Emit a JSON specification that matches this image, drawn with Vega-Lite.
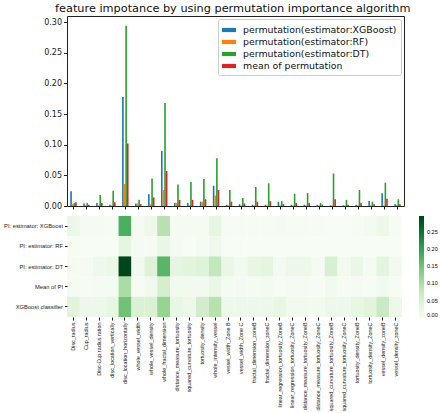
{
  "$schema": "https://vega.github.io/schema/vega-lite/v6.json",
  "padding": {"left": 3, "top": 3, "right": 0, "bottom": 0},
  "background": "white",
  "config": {
    "font": "DejaVu Sans",
    "view": {"stroke": null},
    "axis": {"labelColor": "#222", "tickColor": "#222", "domainColor": "#222", "grid": false}
  },
  "title": {"text": "feature impotance by using permutation importance algorithm", "fontSize": 11.3, "fontWeight": "normal", "color": "#111", "anchor": "middle", "offset": 1, "dx": 12},
  "spacing": 5,
  "resolve": {"scale": {"color": "independent", "x": "independent", "y": "independent"}, "legend": {"color": "independent"}},
  "datasets": {
    "d": [
      {"f": "Disc_radius", "s": "XGB", "v": 0.024}, {"f": "Disc_radius", "s": "RF", "v": 0.003}, {"f": "Disc_radius", "s": "DT", "v": 0.005}, {"f": "Disc_radius", "s": "Mean", "v": 0.006}, {"f": "Disc_radius", "s": "Clf", "v": 0.04},
      {"f": "Cup_radius", "s": "XGB", "v": 0.004}, {"f": "Cup_radius", "s": "RF", "v": 0.001}, {"f": "Cup_radius", "s": "DT", "v": 0.005}, {"f": "Cup_radius", "s": "Mean", "v": 0.002}, {"f": "Cup_radius", "s": "Clf", "v": 0.02},
      {"f": "Disc-Cup radius ration", "s": "XGB", "v": 0.005}, {"f": "Disc-Cup radius ration", "s": "RF", "v": 0.001}, {"f": "Disc-Cup radius ration", "s": "DT", "v": 0.018}, {"f": "Disc-Cup radius ration", "s": "Mean", "v": 0.005}, {"f": "Disc-Cup radius ration", "s": "Clf", "v": 0.02},
      {"f": "disc_location_vertically", "s": "XGB", "v": 0.002}, {"f": "disc_location_vertically", "s": "RF", "v": 0.001}, {"f": "disc_location_vertically", "s": "DT", "v": 0.025}, {"f": "disc_location_vertically", "s": "Mean", "v": 0.006}, {"f": "disc_location_vertically", "s": "Clf", "v": 0.03},
      {"f": "disc_location_horizontally", "s": "XGB", "v": 0.178}, {"f": "disc_location_horizontally", "s": "RF", "v": 0.036}, {"f": "disc_location_horizontally", "s": "DT", "v": 0.294}, {"f": "disc_location_horizontally", "s": "Mean", "v": 0.102}, {"f": "disc_location_horizontally", "s": "Clf", "v": 0.15},
      {"f": "whole_vessel_width", "s": "XGB", "v": 0.004}, {"f": "whole_vessel_width", "s": "RF", "v": 0.004}, {"f": "whole_vessel_width", "s": "DT", "v": 0.010}, {"f": "whole_vessel_width", "s": "Mean", "v": 0.003}, {"f": "whole_vessel_width", "s": "Clf", "v": 0.05},
      {"f": "whole_vessel_density", "s": "XGB", "v": 0.019}, {"f": "whole_vessel_density", "s": "RF", "v": 0.003}, {"f": "whole_vessel_density", "s": "DT", "v": 0.045}, {"f": "whole_vessel_density", "s": "Mean", "v": 0.014}, {"f": "whole_vessel_density", "s": "Clf", "v": 0.05},
      {"f": "whole_fractal_dimension", "s": "XGB", "v": 0.090}, {"f": "whole_fractal_dimension", "s": "RF", "v": 0.026}, {"f": "whole_fractal_dimension", "s": "DT", "v": 0.168}, {"f": "whole_fractal_dimension", "s": "Mean", "v": 0.057}, {"f": "whole_fractal_dimension", "s": "Clf", "v": 0.12},
      {"f": "distance_measure_tortuosity", "s": "XGB", "v": 0.005}, {"f": "distance_measure_tortuosity", "s": "RF", "v": 0.005}, {"f": "distance_measure_tortuosity", "s": "DT", "v": 0.035}, {"f": "distance_measure_tortuosity", "s": "Mean", "v": 0.010}, {"f": "distance_measure_tortuosity", "s": "Clf", "v": 0.03},
      {"f": "squared_curvature_tortuosity", "s": "XGB", "v": 0.005}, {"f": "squared_curvature_tortuosity", "s": "RF", "v": 0.001}, {"f": "squared_curvature_tortuosity", "s": "DT", "v": 0.039}, {"f": "squared_curvature_tortuosity", "s": "Mean", "v": 0.010}, {"f": "squared_curvature_tortuosity", "s": "Clf", "v": 0.02},
      {"f": "tortuosity_density", "s": "XGB", "v": 0.007}, {"f": "tortuosity_density", "s": "RF", "v": 0.007}, {"f": "tortuosity_density", "s": "DT", "v": 0.044}, {"f": "tortuosity_density", "s": "Mean", "v": 0.011}, {"f": "tortuosity_density", "s": "Clf", "v": 0.06},
      {"f": "whole_intensity_vessel", "s": "XGB", "v": 0.033}, {"f": "whole_intensity_vessel", "s": "RF", "v": 0.017}, {"f": "whole_intensity_vessel", "s": "DT", "v": 0.078}, {"f": "whole_intensity_vessel", "s": "Mean", "v": 0.026}, {"f": "whole_intensity_vessel", "s": "Clf", "v": 0.09},
      {"f": "vessel_width_Zone B", "s": "XGB", "v": 0.002}, {"f": "vessel_width_Zone B", "s": "RF", "v": 0.001}, {"f": "vessel_width_Zone B", "s": "DT", "v": 0.026}, {"f": "vessel_width_Zone B", "s": "Mean", "v": 0.007}, {"f": "vessel_width_Zone B", "s": "Clf", "v": 0.02},
      {"f": "vessel_width_Zone C", "s": "XGB", "v": 0.003}, {"f": "vessel_width_Zone C", "s": "RF", "v": 0.001}, {"f": "vessel_width_Zone C", "s": "DT", "v": 0.013}, {"f": "vessel_width_Zone C", "s": "Mean", "v": 0.004}, {"f": "vessel_width_Zone C", "s": "Clf", "v": 0.02},
      {"f": "fractal_dimension_zoneB", "s": "XGB", "v": 0.002}, {"f": "fractal_dimension_zoneB", "s": "RF", "v": 0.001}, {"f": "fractal_dimension_zoneB", "s": "DT", "v": 0.031}, {"f": "fractal_dimension_zoneB", "s": "Mean", "v": 0.007}, {"f": "fractal_dimension_zoneB", "s": "Clf", "v": 0.02},
      {"f": "fractal_dimension_zoneC", "s": "XGB", "v": 0.002}, {"f": "fractal_dimension_zoneC", "s": "RF", "v": 0.001}, {"f": "fractal_dimension_zoneC", "s": "DT", "v": 0.037}, {"f": "fractal_dimension_zoneC", "s": "Mean", "v": 0.008}, {"f": "fractal_dimension_zoneC", "s": "Clf", "v": 0.02},
      {"f": "linear_regression_tortuosity_ZoneB", "s": "XGB", "v": 0.007}, {"f": "linear_regression_tortuosity_ZoneB", "s": "RF", "v": 0.001}, {"f": "linear_regression_tortuosity_ZoneB", "s": "DT", "v": 0.008}, {"f": "linear_regression_tortuosity_ZoneB", "s": "Mean", "v": 0.003}, {"f": "linear_regression_tortuosity_ZoneB", "s": "Clf", "v": 0.03},
      {"f": "linear_regression_tortuosity_ZoneC", "s": "XGB", "v": 0.002}, {"f": "linear_regression_tortuosity_ZoneC", "s": "RF", "v": 0.001}, {"f": "linear_regression_tortuosity_ZoneC", "s": "DT", "v": 0.020}, {"f": "linear_regression_tortuosity_ZoneC", "s": "Mean", "v": 0.005}, {"f": "linear_regression_tortuosity_ZoneC", "s": "Clf", "v": 0.01},
      {"f": "distance_measure_tortuosity_ZoneB", "s": "XGB", "v": 0.002}, {"f": "distance_measure_tortuosity_ZoneB", "s": "RF", "v": 0.001}, {"f": "distance_measure_tortuosity_ZoneB", "s": "DT", "v": 0.021}, {"f": "distance_measure_tortuosity_ZoneB", "s": "Mean", "v": 0.005}, {"f": "distance_measure_tortuosity_ZoneB", "s": "Clf", "v": 0.01},
      {"f": "distance_measure_tortuosity_ZoneC", "s": "XGB", "v": 0.002}, {"f": "distance_measure_tortuosity_ZoneC", "s": "RF", "v": 0.001}, {"f": "distance_measure_tortuosity_ZoneC", "s": "DT", "v": 0.005}, {"f": "distance_measure_tortuosity_ZoneC", "s": "Mean", "v": 0.002}, {"f": "distance_measure_tortuosity_ZoneC", "s": "Clf", "v": 0.01},
      {"f": "squared_curvature_tortuosity_ZoneB", "s": "XGB", "v": 0.001}, {"f": "squared_curvature_tortuosity_ZoneB", "s": "RF", "v": 0.001}, {"f": "squared_curvature_tortuosity_ZoneB", "s": "DT", "v": 0.053}, {"f": "squared_curvature_tortuosity_ZoneB", "s": "Mean", "v": 0.011}, {"f": "squared_curvature_tortuosity_ZoneB", "s": "Clf", "v": 0.02},
      {"f": "squared_curvature_tortuosity_ZoneC", "s": "XGB", "v": 0.001}, {"f": "squared_curvature_tortuosity_ZoneC", "s": "RF", "v": 0.001}, {"f": "squared_curvature_tortuosity_ZoneC", "s": "DT", "v": 0.010}, {"f": "squared_curvature_tortuosity_ZoneC", "s": "Mean", "v": 0.002}, {"f": "squared_curvature_tortuosity_ZoneC", "s": "Clf", "v": 0.02},
      {"f": "tortuosity_density_ZoneB", "s": "XGB", "v": 0.002}, {"f": "tortuosity_density_ZoneB", "s": "RF", "v": 0.001}, {"f": "tortuosity_density_ZoneB", "s": "DT", "v": 0.026}, {"f": "tortuosity_density_ZoneB", "s": "Mean", "v": 0.005}, {"f": "tortuosity_density_ZoneB", "s": "Clf", "v": 0.03},
      {"f": "tortuosity_density_ZoneC", "s": "XGB", "v": 0.008}, {"f": "tortuosity_density_ZoneC", "s": "RF", "v": 0.001}, {"f": "tortuosity_density_ZoneC", "s": "DT", "v": 0.007}, {"f": "tortuosity_density_ZoneC", "s": "Mean", "v": 0.003}, {"f": "tortuosity_density_ZoneC", "s": "Clf", "v": 0.04},
      {"f": "vessel_density_zoneB", "s": "XGB", "v": 0.021}, {"f": "vessel_density_zoneB", "s": "RF", "v": 0.001}, {"f": "vessel_density_zoneB", "s": "DT", "v": 0.038}, {"f": "vessel_density_zoneB", "s": "Mean", "v": 0.012}, {"f": "vessel_density_zoneB", "s": "Clf", "v": 0.07},
      {"f": "vessel_density_zoneC", "s": "XGB", "v": 0.003}, {"f": "vessel_density_zoneC", "s": "RF", "v": 0.001}, {"f": "vessel_density_zoneC", "s": "DT", "v": 0.011}, {"f": "vessel_density_zoneC", "s": "Mean", "v": 0.003}, {"f": "vessel_density_zoneC", "s": "Clf", "v": 0.02}
    ]
  },
  "vconcat": [
    {
      "width": 337,
      "height": 190,
      "data": {"name": "d"},
      "transform": [{"filter": "datum.s != 'Clf'"}],
      "view": {"stroke": "#222", "strokeWidth": 1},
      "mark": {"type": "bar"},
      "encoding": {
        "x": {"field": "f", "type": "nominal", "sort": null, "scale": {"paddingInner": 0.5, "paddingOuter": 0.25}, "axis": {"labels": false, "title": null, "domain": false, "tickSize": 3}},
        "xOffset": {"field": "s", "type": "nominal", "sort": ["XGB", "RF", "DT", "Mean"], "scale": {"paddingInner": 0, "paddingOuter": 0}},
        "y": {"field": "v", "type": "quantitative", "scale": {"domain": [0, 0.31], "nice": false}, "axis": {"values": [0, 0.05, 0.1, 0.15, 0.2, 0.25, 0.3], "format": ".2f", "title": null, "domain": false, "labelFontSize": 8, "tickSize": 3.5}},
        "color": {
          "field": "s", "type": "nominal",
          "scale": {"domain": ["XGB", "RF", "DT", "Mean"], "range": ["#1f77b4", "#ff7f0e", "#2ca02c", "#d62728"]},
          "legend": {
            "orient": "top-right", "offset": 3, "title": null,
            "labelExpr": "datum.label == 'XGB' ? 'permutation(estimator:XGBoost)' : datum.label == 'RF' ? 'permutation(estimator:RF)' : datum.label == 'DT' ? 'permutation(estimator:DT)' : 'mean of permutation'",
            "symbolType": "M-1,-0.3H1V0.3H-1Z", "symbolSize": 196, "symbolStrokeWidth": 0,
            "labelFontSize": 9.4, "labelColor": "#111", "rowPadding": 0, "labelOffset": 7,
            "strokeColor": "#ccc", "fillColor": "white", "padding": 4, "cornerRadius": 2
          }
        }
      }
    },
    {
      "width": 335,
      "height": 101,
      "data": {"name": "d"},
      "mark": {"type": "rect"},
      "encoding": {
        "x": {"field": "f", "type": "nominal", "sort": null, "scale": {"paddingInner": 0, "paddingOuter": 0}, "axis": {"labelAngle": -90, "labelFontSize": 5.4, "labelFont": "Liberation Sans", "title": null, "domain": false, "tickSize": 3, "labelPadding": 2}},
        "y": {"field": "s", "type": "nominal", "sort": ["XGB", "RF", "DT", "Mean", "Clf"], "scale": {"paddingInner": 0, "paddingOuter": 0}, "axis": {"title": null, "domain": false, "tickSize": 2.5, "labelPadding": 2, "labelFontSize": 5.8, "labelFont": "Liberation Sans",
          "labelExpr": "datum.label == 'XGB' ? 'PI: estimator: XGBoost' : datum.label == 'RF' ? 'PI: estimator: RF' : datum.label == 'DT' ? 'PI: estimator: DT' : datum.label == 'Mean' ? 'Mean of PI' : 'XGBoost  classifier'"}},
        "color": {"field": "v", "type": "quantitative",
          "scale": {"domain": [0, 0.036875, 0.07375, 0.110625, 0.1475, 0.184375, 0.22125, 0.258125, 0.295], "range": ["#f7fcf5", "#e5f5e0", "#c7e9c0", "#a1d99b", "#74c476", "#41ab5d", "#238b45", "#006d2c", "#00441b"]},
          "legend": {"orient": "right", "title": null, "gradientLength": 102, "gradientThickness": 5, "values": [0, 0.05, 0.1, 0.15, 0.2, 0.25], "format": ".2f", "labelFontSize": 5.5, "labelFont": "Liberation Sans", "offset": 17, "gradientStrokeWidth": 0, "labelOffset": 3}}
      }
    }
  ]
}
